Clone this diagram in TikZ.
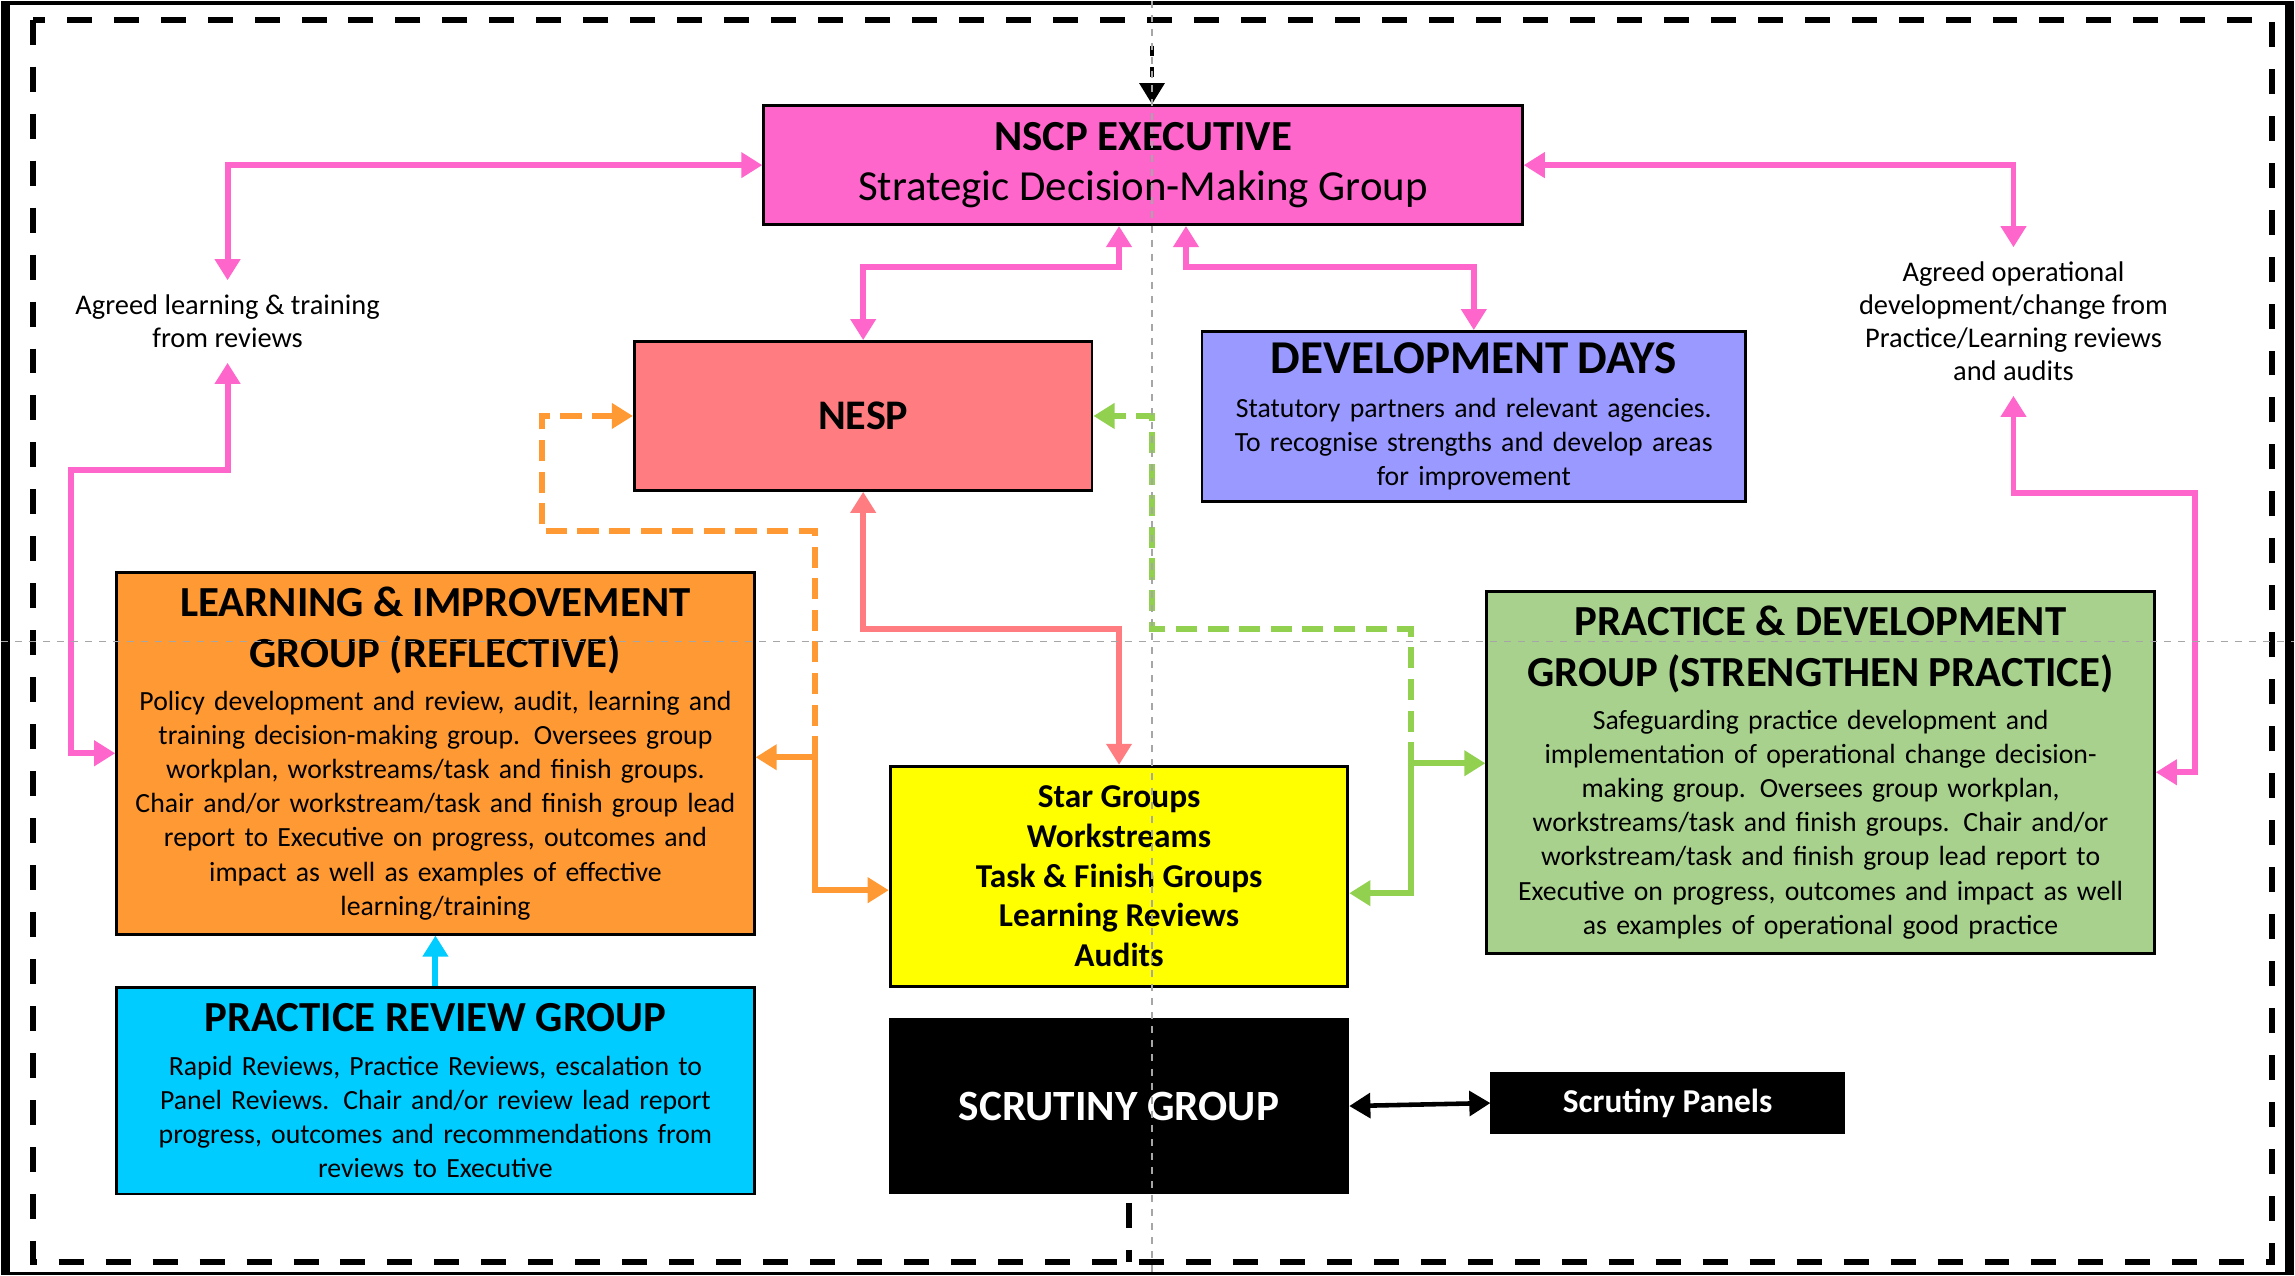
\documentclass[tikz,border=0pt]{standalone}
\usepackage{fontspec}
\setmainfont{Carlito}
\usetikzlibrary{arrows.meta}
\definecolor{execpink}{HTML}{FF66CC}
\definecolor{nespred}{HTML}{FF7C80}
\definecolor{devblue}{HTML}{9999FF}
\definecolor{lnior}{HTML}{FF9933}
\definecolor{prgcyan}{HTML}{00CCFF}
\definecolor{staryel}{HTML}{FFFF00}
\definecolor{pndgreen}{HTML}{A9D18E}
\definecolor{linkgreen}{HTML}{92D050}
\newcommand{\boxtitle}[2][12.2]{{\fontsize{#1}{14.5}\selectfont\bfseries #2\par}\vspace{2.7pt}}

\begin{document}
\begin{tikzpicture}[>={Triangle[length=6pt,width=7pt]},
  box/.style={draw=black, line width=0.8pt, align=center, inner sep=0pt, font=\fontsize{7.9}{9.7}\selectfont},
  link/.style={line width=1.7pt, <->},
  flow/.style={line width=1.7pt, ->},
  lbl/.style={align=center, inner sep=4pt, font=\fontsize{8.1}{9.4}\selectfont},
  frame/.style={line width=1.8pt, dash pattern=on 0.25cm off 0.22cm},
  guide/.style={gray!70, line width=0.4pt, dash pattern=on 2pt off 2pt}]
\fill[black] (0,0) rectangle (22.95,-12.75);
\fill[white] (0.09,-0.04) rectangle (22.86,-12.72);
\draw[frame] (0.32,-0.19) rectangle (22.73,-12.62);
\draw[frame] (11.29,-12.03) -- (11.29,-12.62);

% boxes
\node[box, fill=execpink, minimum width=7.59cm, minimum height=1.19cm, font=\fontsize{12.2}{14.5}\selectfont] (exec) at (11.43,-1.645) {\textbf{NSCP EXECUTIVE}\\Strategic Decision-Making Group};
\node[box, fill=nespred, minimum width=4.58cm, minimum height=1.49cm, font=\fontsize{12}{14}\selectfont\bfseries] (nesp) at (8.63,-4.155) {NESP};
\node[box, fill=devblue, minimum width=5.44cm, minimum height=1.70cm, text width=5.3cm] (dev) at (14.74,-4.16) {\boxtitle[13.4]{DEVELOPMENT DAYS}Statutory partners and relevant agencies.\\To recognise strengths and develop areas\\for improvement};
\node[box, fill=lnior, minimum width=6.38cm, minimum height=3.62cm, text width=6.3cm] (lni) at (4.35,-7.53) {\boxtitle{LEARNING \& IMPROVEMENT\\GROUP (REFLECTIVE)}Policy development and review, audit, learning and\\training decision-making group.  Oversees group\\workplan, workstreams/task and finish groups.\\Chair and/or workstream/task and finish group lead\\report to Executive on progress, outcomes and\\impact as well as examples of effective\\learning/training};
\node[box, fill=prgcyan, minimum width=6.38cm, minimum height=2.07cm, text width=6.3cm] (prg) at (4.35,-10.905) {\boxtitle{PRACTICE REVIEW GROUP}Rapid Reviews, Practice Reviews, escalation to\\Panel Reviews.  Chair and/or review lead report\\progress, outcomes and recommendations  from\\reviews to Executive};
\node[box, fill=staryel, minimum width=4.58cm, minimum height=2.20cm, font=\fontsize{9.5}{11.3}\selectfont\bfseries] (star) at (11.19,-8.76) {Star Groups\\Workstreams\\Task \& Finish Groups\\Learning Reviews\\Audits};
\node[box, fill=black, text=white, minimum width=4.58cm, minimum height=1.74cm, font=\fontsize{12.3}{14}\selectfont\bfseries] (scr) at (11.19,-11.06) {SCRUTINY GROUP};
\node[box, fill=black, text=white, minimum width=3.52cm, minimum height=0.60cm, font=\fontsize{9.5}{11}\selectfont\bfseries] (pan) at (16.68,-11.03) {Scrutiny Panels};
\node[box, fill=pndgreen, minimum width=6.68cm, minimum height=3.62cm, text width=6.6cm] (pnd) at (18.21,-7.72) {\boxtitle{PRACTICE \& DEVELOPMENT\\GROUP (STRENGTHEN PRACTICE)}Safeguarding practice development and\\implementation of operational change decision-\\making group.  Oversees group workplan,\\workstreams/task and finish groups. Chair and/or\\workstream/task and finish group lead report to\\Executive on progress, outcomes and impact as well\\as examples of operational good practice};

% side labels
\node[lbl] (lblL) at (2.27,-3.21) {Agreed learning \& training\\from reviews};
\node[lbl] (lblR) at (20.14,-3.21) {Agreed operational\\development/change from\\Practice/Learning reviews\\and audits};

% pink links
\draw[link, execpink] (lblL.north) |- (exec.west);
\draw[link, execpink] (lblL.south) -- (2.27,-4.70) -- (0.70,-4.70) |- (lni.west);
\draw[link, execpink] ([xshift=-0.24cm]exec.south) -- ++(0,-0.41) -| (nesp.north);
\draw[link, execpink] ([xshift=0.43cm]exec.south) -- ++(0,-0.41) -| (dev.north);
\draw[link, execpink] (exec.east) -| (lblR.north);
\draw[link, execpink] (lblR.south) -- (20.14,-4.93) -- (21.96,-4.93) |- (pnd.east);
\draw[link, nespred] (nesp.south) -- (8.63,-6.29) -| (star.north);

% orange
\coordinate (ojoin) at (8.15,-7.57);
\draw[flow, lnior, dash pattern=on 6pt off 3pt] (ojoin) -- (8.15,-5.31) -- (5.42,-5.31) |- (nesp.west);
\draw[flow, lnior] (ojoin) -- (ojoin -| lni.east);
\draw[flow, lnior] (ojoin) |- ([yshift=-0.14cm]star.west);

% green
\coordinate (gjoin) at (14.11,-7.63);
\draw[flow, linkgreen, dash pattern=on 6pt off 3pt] (gjoin) -- (14.11,-6.29) -- (11.52,-6.29) |- (nesp.east);
\draw[flow, linkgreen] (gjoin) -- (gjoin -| pnd.west);
\draw[flow, linkgreen] (gjoin) |- ([yshift=-0.17cm]star.east);

\draw[flow, prgcyan] (prg.north) -- (lni.south);
\draw[line width=1.3pt, <->] (scr.east) -- (pan.west);

\coordinate (topin) at (11.52,-0.45);
\draw[line width=1.2pt, dashed, ->] (topin) -- (topin |- exec.north);

% guides
\draw[guide] (11.52,0) -- (11.52,-12.75);
\draw[guide] (0,-6.41) -- (22.95,-6.41);
\end{tikzpicture}
\end{document}
